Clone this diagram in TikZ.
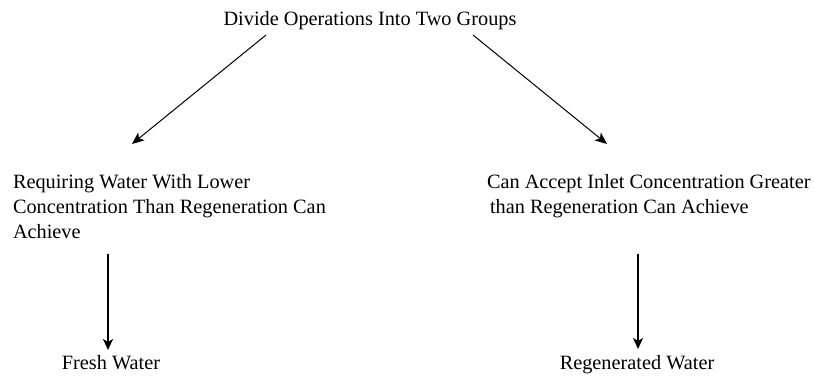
\documentclass[tikz,border=0pt]{standalone}
\usepackage{fontspec}
\setmainfont{Liberation Serif}
\usetikzlibrary{arrows.meta,calc}
\tikzset{
  label text/.style={inner sep=0pt, outer sep=0pt, font=\fontsize{20.3pt}{25pt}\selectfont, text=black},
  block text/.style={label text, align=left, anchor=base west},
  thin arrow/.style={draw=black, line width=1pt, -{Stealth[length=12pt,width=10pt,inset=3pt]}},
  thick arrow/.style={draw=black, line width=1.7pt, -{Stealth[length=11pt,width=10pt,inset=3pt]}}
}
\begin{document}
\begin{tikzpicture}[x=1pt,y=-1pt]
\useasboundingbox[fill=white] (0,0) rectangle (814,375);
\node[label text, anchor=base] (title) at (370,25) {Divide Operations Into Two Groups};
% base anchor of a multi-line block = baseline of its last line
\node[block text] (left) at (13,238) {Requiring Water With Lower\\Concentration Than Regeneration Can\\Achieve};
\node[block text] (right) at (487,213) {Can Accept Inlet Concentration Greater\\\kern3pt than Regeneration Can Achieve};
\node[label text, anchor=base] (fresh) at (111,369) {Fresh Water};
\node[label text, anchor=base] (regen) at (637,369) {Regenerated Water};
\draw[thin arrow] ($(title.base)+(-104,10)$) -- ($(left.base west)+(119,-94)$);
\draw[thin arrow] ($(title.base)+(103,10)$) -- ($(right.base west)+(120,-69)$);
\draw[thick arrow] ($(left.base west)+(95,16)$) -- ($(fresh.base)+(-3,-19)$);
\draw[thick arrow] ($(right.base west)+(151,41)$) -- ($(regen.base)+(1,-20)$);
\end{tikzpicture}
\end{document}
